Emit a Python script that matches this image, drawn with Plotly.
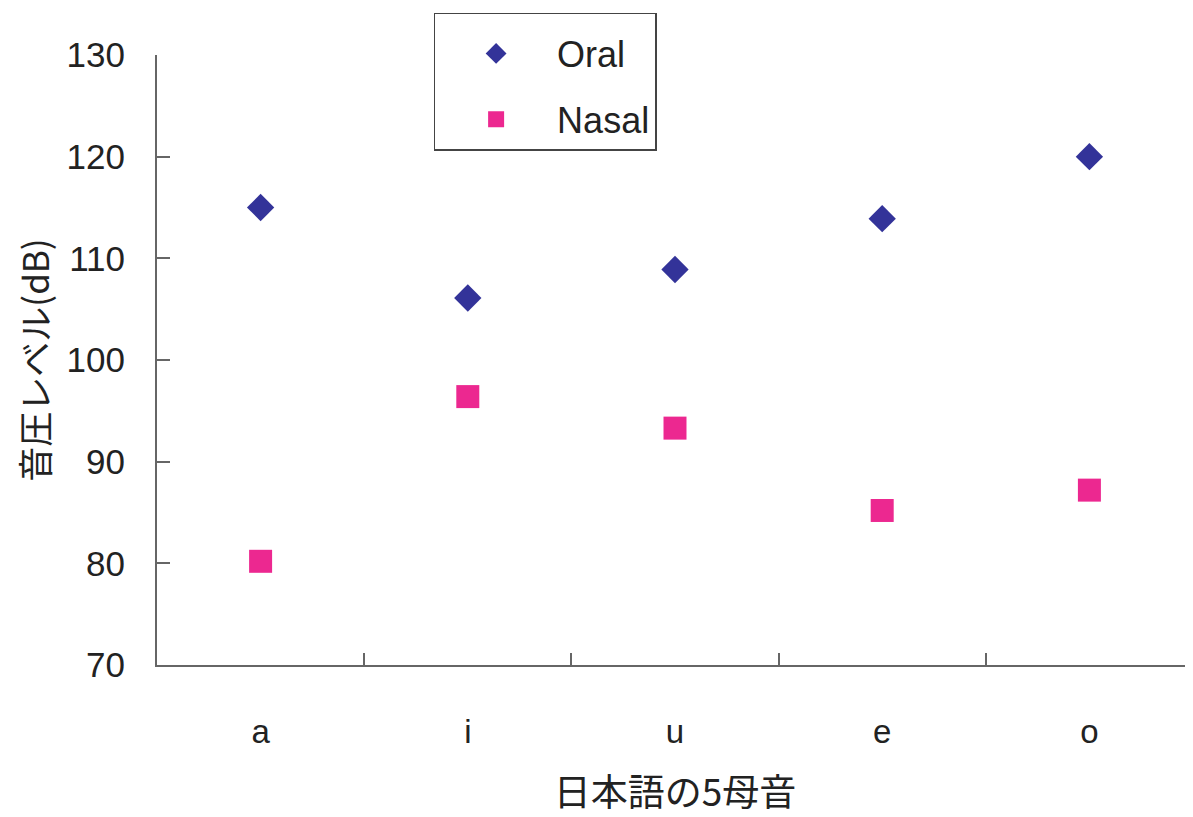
import plotly.graph_objects as go

vowels = ["a", "i", "u", "e", "o"]
oral = [115.0, 106.1, 108.9, 113.9, 120.0]
nasal = [80.2, 96.4, 93.3, 85.2, 87.2]
y_ticks = [70, 80, 90, 100, 110, 120, 130]

FONT = "Liberation Sans, Arial, Noto Sans CJK JP, sans-serif"
AXIS = "#666666"

fig = go.Figure()
fig.add_trace(go.Scatter(
    x=vowels, y=oral, mode="markers", name="Oral", legendgroup="oral",
    marker=dict(symbol="diamond", size=21, color="#333399", line=dict(width=0)),
))
fig.add_trace(go.Scatter(
    x=vowels, y=nasal, mode="markers", name="Nasal", legendgroup="nasal",
    marker=dict(symbol="square", size=23, color="#EC2890", line=dict(width=0)),
))

fig.update_layout(
    width=1185, height=809, autosize=False,
    margin=dict(l=149, r=0, t=47, b=152, autoexpand=False),
    paper_bgcolor="white", plot_bgcolor="white",
    font=dict(family=FONT, color="#222222", size=34),
    showlegend=True,
    legend=dict(
        x=0.267, y=1.069, xanchor="left", yanchor="top",
        bordercolor="#444444", borderwidth=1.5, bgcolor="white",
        font=dict(size=36, family=FONT, color="#222222"),
        title=dict(text=" ", font=dict(size=7)),
        itemwidth=112, traceorder="grouped", tracegroupgap=16,
    ),
    xaxis=dict(
        type="category", range=[-0.5, 4.5], tickvals=vowels, ticktext=vowels,
        showline=True, linecolor=AXIS, linewidth=2, automargin=False,
        ticks="inside", tickson="boundaries", ticklen=12, tickcolor=AXIS, tickwidth=1.5,
        showgrid=False, zeroline=False,
        tickfont=dict(size=33, family=FONT, color="#222222"),
        ticklabelstandoff=36,
        title=dict(text="日本語の5母音", standoff=42,
                   font=dict(size=37, family="Noto Sans CJK JP, Liberation Sans", color="#222222")),
    ),
    yaxis=dict(
        range=[70, 130], tickvals=y_ticks, ticktext=[str(v) for v in y_ticks],
        showline=True, linecolor=AXIS, linewidth=2, automargin=False,
        ticks="inside", ticklen=13, tickcolor=AXIS, tickwidth=1.5,
        showgrid=False, zeroline=False,
        tickfont=dict(size=35, family=FONT, color="#222222"),
        ticklabelstandoff=23,
        title=dict(text="音圧レベル(dB)", standoff=22,
                   font=dict(size=35, family="Noto Sans CJK JP, Liberation Sans", color="#222222")),
    ),
)

fig.write_html("out.html")
